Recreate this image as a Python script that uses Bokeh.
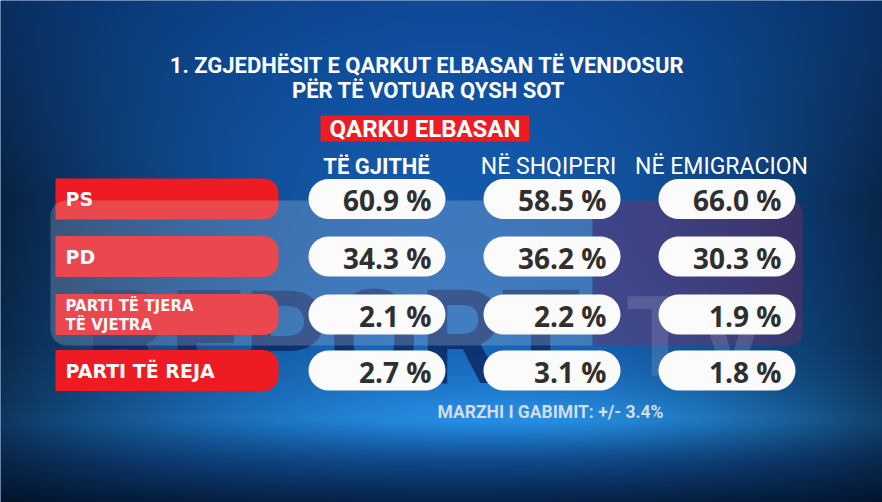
import numpy as np
from bokeh.plotting import figure
from bokeh.models import Range1d
from bokeh.core.properties import value
from bokeh.embed import file_html
from bokeh.resources import INLINE

# ---------------- data ----------------
title_lines = ["1. ZGJEDHËSIT E QARKUT ELBASAN TË VENDOSUR", "PËR TË VOTUAR QYSH SOT"]
region_label = "QARKU ELBASAN"
column_labels = ["TË GJITHË", "NË SHQIPERI", "NË EMIGRACION"]
party_labels = [["PS"], ["PD"], ["PARTI TË TJERA", "TË VJETRA"], ["PARTI TË REJA"]]
share_all = [60.9, 34.3, 2.1, 2.7]
share_albania = [58.5, 36.2, 2.2, 3.1]
share_emigration = [66.0, 30.3, 1.9, 1.8]
margin_note = "MARZHI I GABIMIT: +/- 3.4%"
watermark_words = ["REPORT", "TV"]

# ---------------- layout (reference pixel coords, y from top) ----------------
def Y(y):
    return 502 - y

row_y = [198.5, 256, 314, 370]
col_x0 = [308, 483, 658]
col_x1 = [445, 620, 795]
head_x = [376, 548, 721]
RED = "#ee1b22"

p = figure(width=882, height=502, x_range=Range1d(0, 882), y_range=Range1d(0, 502),
           output_backend="svg", toolbar_location=None, min_border=0,
           x_axis_location=None, y_axis_location=None)
p.grid.visible = False
p.outline_line_color = None
p.background_fill_color = "#114a90"
p.border_fill_color = "#114a90"

# ---------------- background gradient ----------------
H, W = 251, 441
yy = (np.arange(H) + 0.5) * 502 / H
xx = (np.arange(W) + 0.5) * 882 / W
X, Yr = np.meshgrid(xx, yy)
cy = [0, 60, 150, 250, 340, 380, 420, 460, 502]
cr = [14, 16, 19, 20, 22, 28, 30, 16, 6]
cg = [72, 80, 88, 92, 100, 112, 120, 72, 34]
cb = [150, 160, 170, 175, 182, 195, 205, 138, 72]
R = np.interp(Yr, cy, cr)
G = np.interp(Yr, cy, cg)
B = np.interp(Yr, cy, cb)
k = np.interp(Yr, [0, 200, 400, 502], [0.35, 0.6, 0.55, 0.4])
dx = (X - 450) / 440
f = np.clip(1 - k * dx ** 2, 0.3, 1)
glow = np.exp(-((X - 560) / 260) ** 2 - ((Yr - 418) / 30) ** 2)
R = R * f + 8 * glow
G = G * f + 25 * glow
B = B * f + 25 * glow
img = np.zeros((H, W), dtype=np.uint32)
v = img.view(dtype=np.uint8).reshape((H, W, 4))
v[:, :, 0] = np.clip(R, 0, 255)
v[:, :, 1] = np.clip(G, 0, 255)
v[:, :, 2] = np.clip(B, 0, 255)
v[:, :, 3] = 255
img = np.flipud(img)
p.image_rgba(image=[img], x=0, y=0, dw=882, dh=502)


def rrect(x0, x1, y0, y1, rl, rr, n=10):
    pts = []
    def arc(cx, cyy, r, a0, a1):
        for t in np.linspace(np.radians(a0), np.radians(a1), n):
            pts.append((cx + r * np.cos(t), cyy + r * np.sin(t)))
    arc(x0 + rl, y0 + rl, rl, 180, 270)
    arc(x1 - rr, y0 + rr, rr, 270, 360)
    arc(x1 - rr, y1 - rr, rr, 0, 90)
    arc(x0 + rl, y1 - rl, rl, 90, 180)
    return [q[0] for q in pts], [Y(q[1]) for q in pts]


# ---------------- titles ----------------
p.text(x=[427, 428], y=[Y(64.5), Y(89.5)], text=title_lines,
       text_font=value("Roboto"), text_font_style="bold", text_font_size="22px",
       text_color="white", text_align="center", text_baseline="middle")

bx, by = rrect(320, 529, 115, 141, 0, 0)
p.patch(bx, by, fill_color=RED, line_color=None)
p.text(x=[424.5], y=[Y(128.5)], text=[region_label],
       text_font=value("Roboto"), text_font_style="bold", text_font_size="24px",
       text_color="white", text_align="center", text_baseline="middle")

p.text(x=head_x[:1], y=[Y(166)], text=column_labels[:1],
       text_font=value("Roboto"), text_font_style="bold", text_font_size="22px",
       text_color="white", text_align="center", text_baseline="middle")
p.text(x=head_x[1:], y=[Y(166)] * 2, text=column_labels[1:],
       text_font=value("Roboto"), text_font_size="23px",
       text_color="white", text_align="center", text_baseline="middle")

# ---------------- watermark letters (behind bars) ----------------
p.text(x=[84], y=[Y(338)], text=[watermark_words[0]],
       text_font=value("Roboto"), text_font_style="bold", text_font_size="132px",
       text_color="#0a2660", text_alpha=0.8, text_align="left", text_baseline="alphabetic")

# ---------------- red label bars ----------------
bxs, bys = [], []
for yc in row_y:
    a, b = rrect(55, 278, yc - 20.5, yc + 20.5, 0, 15)
    bxs.append(a)
    bys.append(b)
p.patches(bxs, bys, fill_color=RED, line_color=None)

single_x, single_y, single_t = [], [], []
multi_x, multi_y, multi_t = [], [], []
for yc, lab in zip(row_y, party_labels):
    if len(lab) == 1:
        single_x.append(65); single_y.append(Y(yc)); single_t.append(lab[0])
    else:
        for j, line in enumerate(lab):
            multi_x.append(65); multi_y.append(Y(yc - 9 + 19 * j)); multi_t.append(line)
p.text(x=single_x, y=single_y, text=single_t,
       text_font=value("DejaVu Sans"), text_font_style="bold", text_font_size="19px",
       text_color="white", text_align="left", text_baseline="middle")
p.text(x=multi_x, y=multi_y, text=multi_t,
       text_font=value("DejaVu Sans"), text_font_style="bold", text_font_size="15px",
       text_color="white", text_align="left", text_baseline="middle")

# ---------------- watermark overlay ----------------
wx, wy = rrect(50, 592, 200, 345, 16, 0)
p.patch(wx, wy, fill_color="#dfe3f0", fill_alpha=0.22, line_color=None)
tx, ty = rrect(592, 802, 200, 345, 0, 12)
p.patch(tx, ty, fill_color="#a0245a", fill_alpha=0.32, line_color=None)
p.text(x=[625], y=[Y(336)], text=[watermark_words[1]],
       text_font=value("Roboto"), text_font_style="bold", text_font_size="112px",
       text_color="#9aa6c8", text_alpha=0.25, text_align="left", text_baseline="alphabetic")

# ---------------- value pills ----------------
pxs, pys = [], []
for yc in row_y:
    for x0, x1 in zip(col_x0, col_x1):
        a, b = rrect(x0, x1, yc - 20, yc + 20, 20, 20)
        pxs.append(a)
        pys.append(b)
p.patches(pxs, pys, fill_color="#fbfbfb", line_color=None)

vx, vy, vt = [], [], []
for ci, series in enumerate([share_all, share_albania, share_emigration]):
    for yc, val in zip(row_y, series):
        vx.append(col_x1[ci] - 14)
        vy.append(Y(yc + 1))
        vt.append(f"{val:.1f} %")
p.text(x=vx, y=vy, text=vt,
       text_font=value("Open Sans"), text_font_style="bold", text_font_size="28px",
       text_color="#2f2f2f", text_align="right", text_baseline="middle")

# ---------------- footer ----------------
p.text(x=[437], y=[Y(411)], text=[margin_note],
       text_font=value("Roboto"), text_font_style="bold", text_font_size="17.5px",
       text_color="#d5dbe8", text_align="left", text_baseline="middle")

open("out.html", "w").write(file_html(p, INLINE))
